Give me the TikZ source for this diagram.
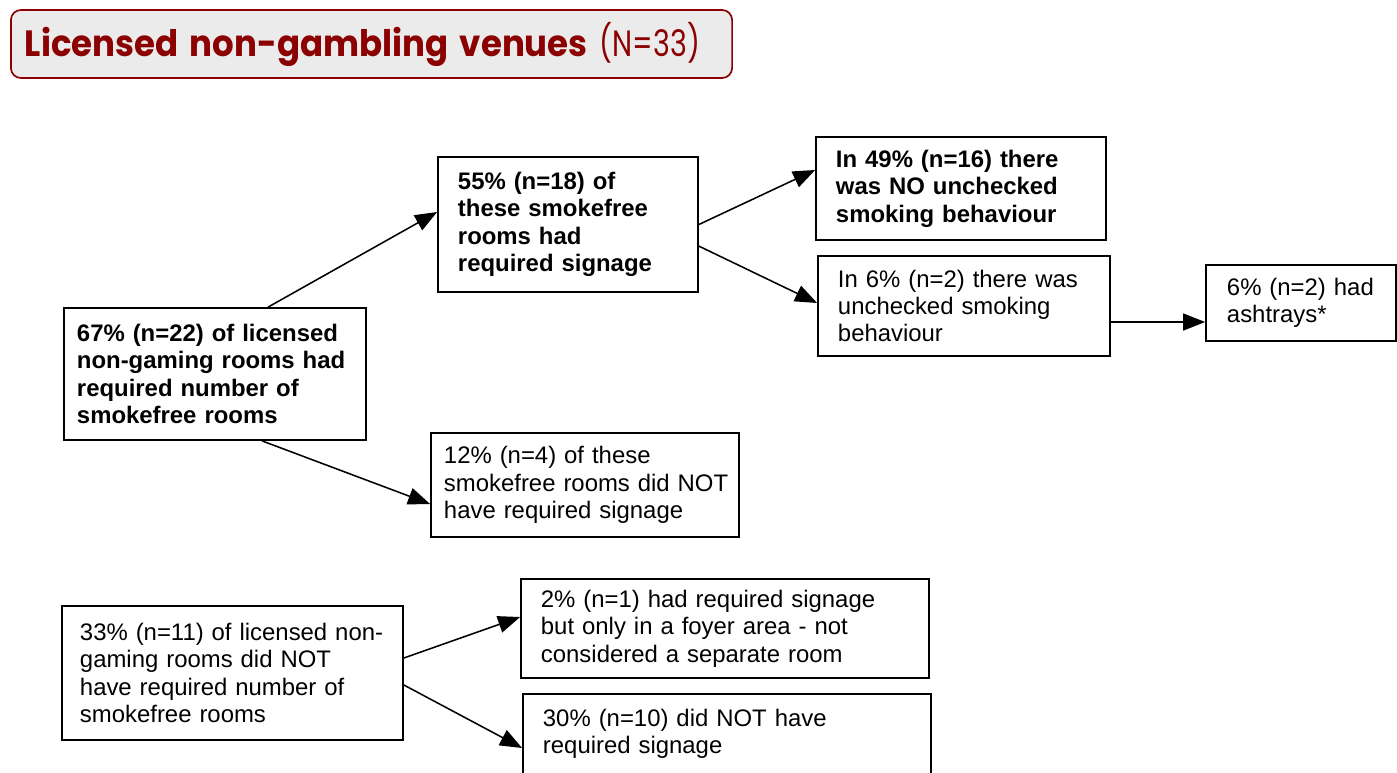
\documentclass[tikz,border=0pt]{standalone}
\usepackage{fontspec}
\setmainfont{Liberation Sans}
\newfontfamily\titlefont{Poppins}
\usetikzlibrary{arrows.meta}
\definecolor{titlered}{HTML}{8B0000}
\definecolor{titlegray}{HTML}{EBEBEB}
\tikzset{
  box/.style={draw, line width=1.2pt, align=left, font=\fontsize{17pt}{19.5pt}\selectfont},
  arr/.style={line width=1.1pt, -{Triangle[length=0.55cm, width=0.425cm]}}
}
\begin{document}
\begin{tikzpicture}[x=0.025cm,y=-0.025cm]
\useasboundingbox (0,0) rectangle (1397,772);
\node[draw=titlered, fill=titlegray, line width=1.2pt, rounded corners=0.25cm, minimum width=18.025cm, minimum height=1.7cm, inner xsep=0.35cm, text width=17.325cm, align=left, text=titlered, font=\titlefont\fontsize{26pt}{30pt}\selectfont] (title) at (371.5,44) {\scalebox{0.93}[1]{\bfseries Licensed non-gambling venues}\hspace{0.3cm}\scalebox{0.78}[1]{(N=33)}};
\node[box, minimum width=7.55cm, minimum height=3.3cm, inner xsep=0.325cm, text width=6.9cm] (rooms) at (215,374) {\bfseries 67\% (n=22) of licensed\\non-gaming rooms had\\required number of\\smokefree rooms};
\node[box, minimum width=6.5cm, minimum height=3.375cm, inner xsep=0.5cm, text width=5.5cm] (sign) at (568,224.5) {\bfseries 55\% (n=18) of\\these smokefree\\rooms had\\required signage};
\node[box, minimum width=7.25cm, minimum height=2.575cm, inner xsep=0.5cm, text width=6.25cm] (nounchk) at (961,188.5) {\bfseries In 49\% (n=16) there\\was NO unchecked\\smoking behaviour};
\node[box, minimum width=7.3cm, minimum height=2.5cm, inner xsep=0.5cm, text width=6.3cm] (unchk) at (964,306) {In 6\% (n=2) there was\\unchecked smoking\\behaviour};
\node[box, minimum width=4.75cm, minimum height=1.9cm, inner xsep=0.525cm, text width=3.7cm] (ashtray) at (1301,303) {6\% (n=2) had\\ashtrays*};
\node[box, minimum width=7.7cm, minimum height=2.6cm, inner xsep=0.25cm, text width=7.2cm] (nosign) at (585,485) {\hspace{0.075cm}12\% (n=4) of these\\\hspace*{0.075cm}smokefree rooms did NOT\\\hspace*{0.075cm}have required signage};
\node[box, minimum width=8.525cm, minimum height=3.35cm, inner xsep=0.45cm, text width=7.625cm] (norooms) at (232.5,673) {33\% (n=11) of licensed non-\\gaming rooms did NOT\\have required number of\\smokefree rooms};
\node[box, minimum width=10.2cm, minimum height=2.475cm, inner xsep=0.5cm, text width=9.2cm] (foyer) at (725,628.5) {2\% (n=1) had required signage\\but only in a foyer area - not\\considered a separate room};
\node[box, minimum width=10.2cm, minimum height=2cm, inner xsep=0.5cm, text width=9.2cm] (nosigntwo) at (727,734) {30\% (n=10) did NOT have\\required signage};
\draw[arr] ([xshift=1.325cm]rooms.north) -- ([yshift=0.3125cm]sign.west);
\draw[arr] ([xshift=1.175cm]rooms.south) -- ([yshift=-0.475cm]nosign.west);
\draw[arr] (sign.east) -- ([yshift=0.4625cm]nounchk.west);
\draw[arr] ([yshift=-0.54cm]sign.east) -- ([yshift=0.075cm]unchk.west);
\draw[arr] ([yshift=-0.4cm]unchk.east) -- ([yshift=-0.475cm]ashtray.west);
\draw[arr] ([yshift=0.375cm]norooms.east) -- ([yshift=0.2875cm]foyer.west);
\draw[arr] ([yshift=-0.3cm]norooms.east) -- ([yshift=-0.35cm]nosigntwo.west);
\end{tikzpicture}
\end{document}
